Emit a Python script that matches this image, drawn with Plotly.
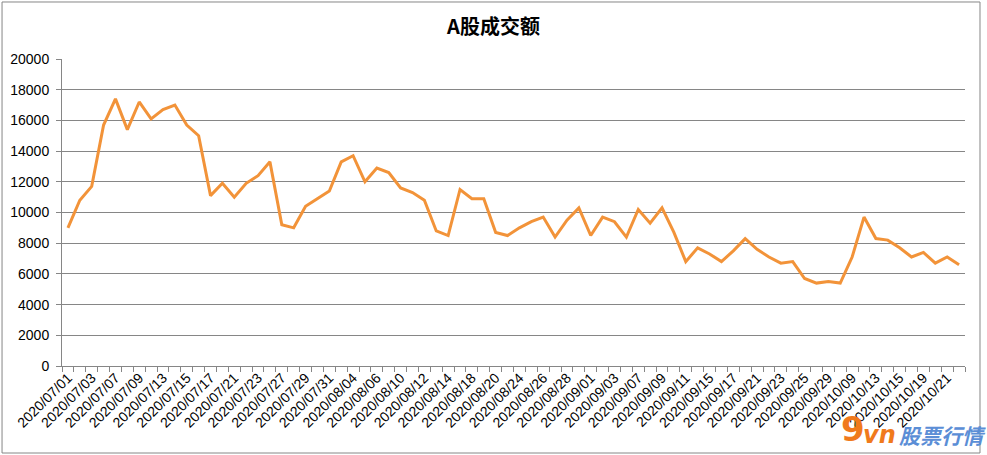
import plotly.graph_objects as go

dates = [
    "2020/07/01", "2020/07/02", "2020/07/03", "2020/07/06", "2020/07/07", "2020/07/08", "2020/07/09", "2020/07/10",
    "2020/07/13", "2020/07/14", "2020/07/15", "2020/07/16", "2020/07/17", "2020/07/20", "2020/07/21", "2020/07/22",
    "2020/07/23", "2020/07/24", "2020/07/27", "2020/07/28", "2020/07/29", "2020/07/30", "2020/07/31",
    "2020/08/03", "2020/08/04", "2020/08/05", "2020/08/06", "2020/08/07", "2020/08/10", "2020/08/11", "2020/08/12",
    "2020/08/13", "2020/08/14", "2020/08/17", "2020/08/18", "2020/08/19", "2020/08/20", "2020/08/21", "2020/08/24",
    "2020/08/25", "2020/08/26", "2020/08/27", "2020/08/28", "2020/08/31",
    "2020/09/01", "2020/09/02", "2020/09/03", "2020/09/04", "2020/09/07", "2020/09/08", "2020/09/09", "2020/09/10",
    "2020/09/11", "2020/09/14", "2020/09/15", "2020/09/16", "2020/09/17", "2020/09/18", "2020/09/21", "2020/09/22",
    "2020/09/23", "2020/09/24", "2020/09/25", "2020/09/28", "2020/09/29", "2020/09/30",
    "2020/10/09", "2020/10/12", "2020/10/13", "2020/10/14", "2020/10/15", "2020/10/16", "2020/10/19", "2020/10/20",
    "2020/10/21", "2020/10/22",
]

turnover = [
    9000, 10800, 11700, 15700, 17400, 15400, 17200, 16100,
    16700, 17000, 15700, 15000, 11100, 11900, 11000, 11900,
    12400, 13300, 9200, 9000, 10400, 10900, 11400,
    13300, 13700, 12000, 12900, 12600, 11600, 11300, 10800,
    8800, 8500, 11500, 10900, 10900, 8700, 8500, 9000,
    9400, 9700, 8400, 9500, 10300,
    8500, 9700, 9400, 8400, 10200, 9300, 10300, 8700,
    6800, 7700, 7300, 6800, 7500, 8300, 7600, 7100,
    6700, 6800, 5700, 5400, 5500, 5400,
    7100, 9700, 8300, 8200, 7700, 7100, 7400, 6700,
    7100, 6600,
]

label_dates = dates[::2]

title_text = "A股成交额"
y_ticks = [0, 2000, 4000, 6000, 8000, 10000, 12000, 14000, 16000, 18000, 20000]

fig = go.Figure()
fig.add_trace(go.Scatter(
    x=dates, y=turnover, mode="lines",
    line=dict(color="#F29339", width=3),
    hoverinfo="x+y", showlegend=False,
))
# invisible trace to draw category boundary ticks
fig.add_trace(go.Scatter(
    x=dates, y=turnover, mode="lines", xaxis="x2",
    line=dict(color="rgba(0,0,0,0)", width=0),
    hoverinfo="skip", showlegend=False,
))

axis_font = dict(family="Liberation Sans, Arial, sans-serif", size=14, color="#000000")

fig.update_layout(
    width=987, height=455,
    margin=dict(l=62, r=22, t=59, b=89, autoexpand=False),
    paper_bgcolor="white", plot_bgcolor="white",
    title=dict(text="<b>" + title_text + "</b>", x=0.5, xanchor="center", y=0.94, yanchor="middle",
               font=dict(family="Noto Sans CJK SC, sans-serif", size=20, color="#000000")),
    xaxis=dict(
        type="category", categoryorder="array", categoryarray=dates,
        tickmode="array", tickvals=label_dates, ticktext=label_dates,
        tickangle=-45, ticks="", showgrid=False, showline=False, automargin=False,
        tickfont=axis_font, range=[-0.5, len(dates) - 0.5], zeroline=False,
    ),
    xaxis2=dict(
        type="category", categoryorder="array", categoryarray=dates,
        overlaying="x", matches="x", side="bottom",
        ticks="outside", tickson="boundaries", ticklen=5, tickcolor="#868686",
        showticklabels=False, showgrid=False, showline=True, linecolor="#868686", linewidth=1,
        dtick=1,
    ),
    yaxis=dict(
        range=[0, 20000], tickvals=y_ticks, ticktext=[str(v) for v in y_ticks],
        showgrid=True, gridcolor="#868686", gridwidth=1, automargin=False,
        showline=True, linecolor="#868686", linewidth=1,
        ticks="outside", ticklen=5, tickcolor="#868686",
        tickfont=axis_font, zeroline=False, ticklabelstandoff=4,
    ),
    shapes=[dict(type="rect", xref="paper", yref="paper",
                 x0=-0.0664, x1=1.0166, y0=-0.2834, y1=1.1857,
                 line=dict(color="#868686", width=1), fillcolor="rgba(0,0,0,0)", layer="above")],
    annotations=[
        dict(text="<b>9</b>", xref="paper", yref="paper", x=0.876, y=-0.205, xanchor="center", yanchor="middle",
             showarrow=False, font=dict(family="DejaVu Sans, sans-serif", size=34, color="#F07A1C")),
        dict(text="<b><i>vn</i></b>", xref="paper", yref="paper", x=0.905, y=-0.225, xanchor="center", yanchor="middle",
             showarrow=False, font=dict(family="DejaVu Sans, sans-serif", size=24, color="#F07A1C")),
        dict(text="<b><i>股票行情</i></b>", xref="paper", yref="paper", x=0.975, y=-0.225, xanchor="center", yanchor="middle",
             showarrow=False, font=dict(family="Noto Sans CJK SC, sans-serif", size=21, color="#5B8ED6")),
    ],
)

fig.write_html("out.html", config={"displayModeBar": False},
               post_script="document.body.style.margin='0';document.body.style.padding='0';")
